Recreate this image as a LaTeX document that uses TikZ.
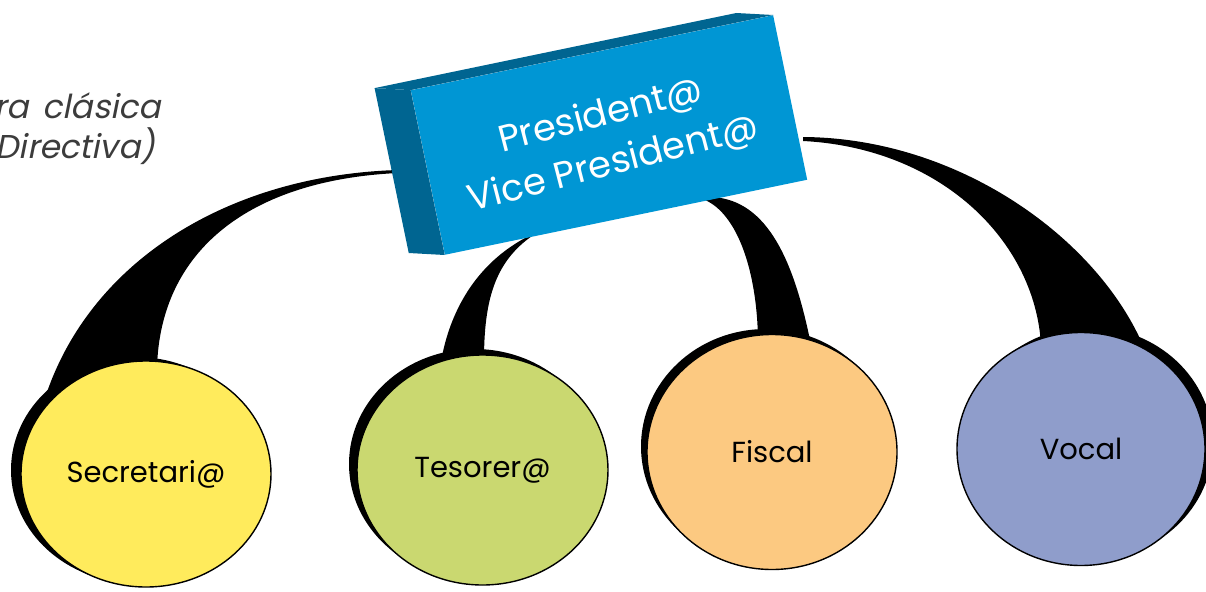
\documentclass[tikz,border=0pt]{standalone}
\usepackage{fontspec}
\setmainfont{Poppins}
\newfontfamily\gothic[FakeSlant=0.2]{Poppins}
\usetikzlibrary{shapes.geometric,calc}
\definecolor{secfill}{RGB}{255,235,92}
\definecolor{tesfill}{RGB}{202,216,112}
\definecolor{fisfill}{RGB}{252,201,129}
\definecolor{vocfill}{RGB}{143,157,203}
\definecolor{boxfront}{RGB}{0,150,212}
\definecolor{boxside}{RGB}{0,101,145}
\definecolor{textgray}{RGB}{60,60,60}
\begin{document}
\begin{tikzpicture}[x=1pt,y=-1pt,
  member/.style={ellipse, draw=black, line width=1.4pt, inner sep=0pt,
    font=\fontsize{29}{34}\selectfont},
  tail/.style={fill=black},
  shadowfill/.style={fill=black},
  headbox/.style={rectangle, fill=boxfront, inner sep=0pt, minimum width=370pt,
    minimum height=168pt, rotate=11.7},
  headtext/.style={inner sep=0pt, rotate=14.5, text=white, align=center,
    font=\fontsize{37}{50}\selectfont},
  caption/.style={anchor=base east, inner sep=0pt, text=textgray,
    font=\gothic\fontsize{33}{38}\selectfont}]
\useasboundingbox (0,0) rectangle (1206,591);

% caption (cut at the left edge)
\node[caption] (cap1) at (161,118) {ra\hspace{14pt}clásica};
\node[caption] (cap2) at (156,158) {Directiva)};

% tapered connectors
\fill[tail] (398,170) .. controls (230,175) and (90,260) .. (45,398)
  -- (157,368) .. controls (160,250) and (250,180) .. (398,173) -- cycle;
\fill[tail] (525,238) .. controls (470,268) and (448,320) .. (441,362)
  -- (484,360) .. controls (484,300) and (495,262) .. (532,236) -- cycle;
\fill[tail] (705,200) .. controls (737,214) and (757,270) .. (758,340)
  -- (812,350) .. controls (795,262) and (768,200) .. (712,197) -- cycle;
\fill[tail] (803,137) .. controls (960,138) and (1100,240) .. (1145,350)
  -- (1041,345) .. controls (1035,240) and (940,148) .. (803,141) -- cycle;

% shadows
\fill[shadowfill] (136,470) ellipse [x radius=125pt, y radius=113pt];
\fill[shadowfill] (474.5,464) ellipse [x radius=125.5pt, y radius=115pt];
\fill[shadowfill] (766,446.5) ellipse [x radius=125pt, y radius=117.5pt];
\fill[shadowfill] (1089,443.5) ellipse [x radius=124pt, y radius=116.5pt];

% members
\node[member, fill=secfill, minimum width=250pt, minimum height=226pt] (sec) at (146,474) {Secretari@};
\node[member, fill=tesfill, minimum width=251pt, minimum height=230pt] (tes) at (482.5,470) {Tesorer@};
\node[member, fill=fisfill, minimum width=250pt, minimum height=235pt] (fis) at (772,452) {Fiscal};
\node[member, fill=vocfill, minimum width=248pt, minimum height=233pt] (voc) at (1081,449) {Vocal};

% president box
\node[headbox] (pres) at (609,135) {};
\fill[boxside] (pres.north west) -- ++(-36,-2) -- ($(pres.south west)+(-36,-2)$)
  -- (pres.south west) -- cycle;
\fill[boxside] (pres.north west) -- ++(-36,-2) -- ($(pres.north east)+(-37,-2)$)
  -- (pres.north east) -- cycle;
\node[headtext] (prestext) at (607,140) {President@\\Vice President@};
\end{tikzpicture}
\end{document}
